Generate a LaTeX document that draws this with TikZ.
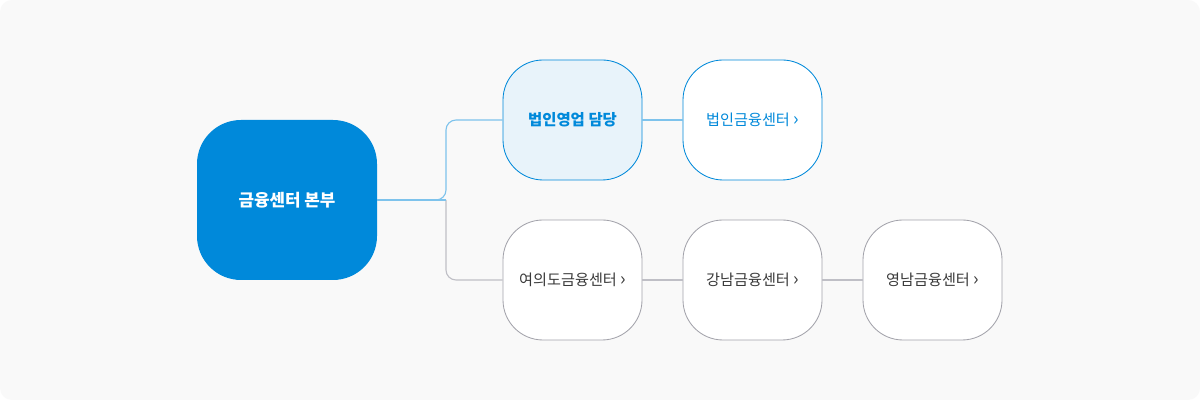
\documentclass[tikz,border=0pt]{standalone}
\usepackage{fontspec}
\setmainfont{Noto Sans CJK KR}
\usetikzlibrary{positioning}
\definecolor{hqblue}{HTML}{0089DA}
\definecolor{lineblue}{HTML}{7EC3EC}
\definecolor{paleblue}{HTML}{E8F3FA}
\definecolor{linegray}{HTML}{BFBFC6}
\definecolor{boxgray}{HTML}{A3A3AB}
\definecolor{txtgray}{HTML}{3A3A3A}
\definecolor{bggray}{HTML}{F9F9F9}
\newcommand{\more}{\ {\fontsize{13}{13}\selectfont ›}}

\begin{document}
\begin{tikzpicture}[
    hqbox/.style={rectangle, rounded corners=1.1cm, fill=hqblue, text=white, font=\fontsize{12}{14}\selectfont\bfseries, minimum width=4.5cm, minimum height=4cm},
    bluebox/.style={rectangle, rounded corners=1cm, draw=hqblue, line width=0.6pt, fill=white, text=hqblue, font=\fontsize{10.8}{13}\selectfont, minimum width=3.475cm, minimum height=3cm},
    graybox/.style={rectangle, rounded corners=1cm, draw=boxgray, line width=0.6pt, fill=white, text=txtgray, font=\fontsize{10.8}{13}\selectfont, minimum width=3.475cm, minimum height=3cm},
    blueline/.style={lineblue, line width=0.8pt},
    grayline/.style={linegray, line width=0.8pt}
  ]
  % background
  \useasboundingbox (0,0) rectangle (30,10);
  \fill[white] (0,0) rectangle (30,10);
  \fill[bggray, rounded corners=0.3cm] (0,0) rectangle (30,10);

  % Headquarters
  \node[hqbox] (hq) at (7.175,5) {금융센터 본부};
  \coordinate (fork) at (11.15,5);

  % Corporate row (blue)
  \node[bluebox, fill=paleblue, font=\fontsize{11}{13}\selectfont\bfseries] (corp) at (14.3125,7) {법인영업 담당};
  \node[bluebox] (corpcenter) at (18.8125,7) {법인금융센터\more};

  % Regional row (gray)
  \node[graybox] (yeouido) at (14.3125,3) {여의도금융센터\more};
  \node[graybox] (gangnam) at (18.8125,3) {강남금융센터\more};
  \node[graybox] (yeongnam) at (23.3125,3) {영남금융센터\more};

  % Connectors
  \draw[grayline, rounded corners=0.25cm] (fork) |- (yeouido.west);
  \draw[grayline] (yeouido) -- (gangnam);
  \draw[grayline] (gangnam) -- (yeongnam);
  \draw[blueline] (hq.east) -- (fork);
  \draw[blueline, rounded corners=0.25cm] (hq.east) -- (fork) |- (corp.west);
  \draw[blueline] (corp) -- (corpcenter);
\end{tikzpicture}
\end{document}
